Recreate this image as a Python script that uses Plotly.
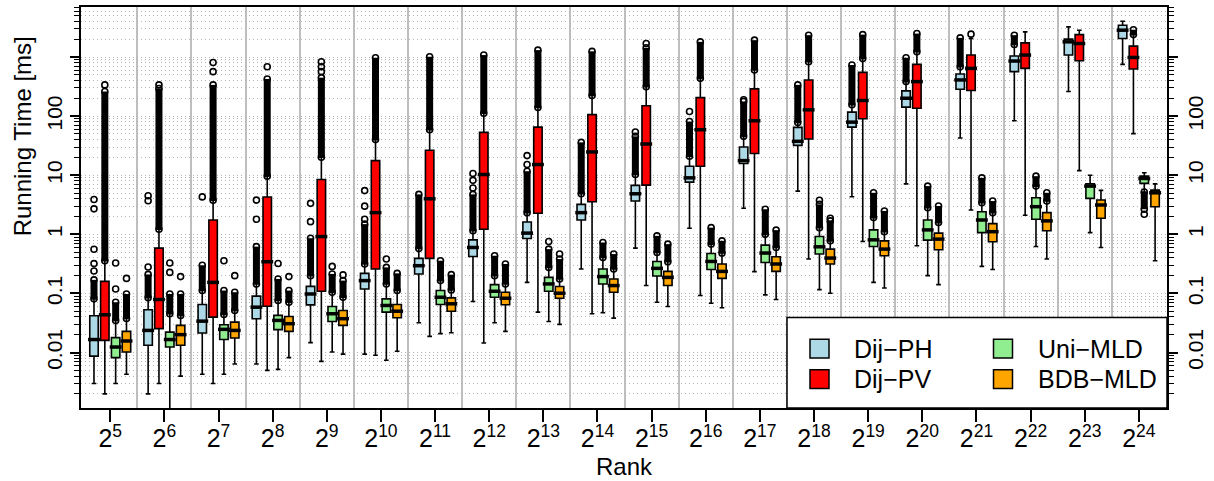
import plotly.graph_objects as go

# ---------------- data (running time in ms) ----------------
ranks = list(range(5, 25))  # 2^5 ... 2^24
series_names = ["Dij−PH", "Dij−PV", "Uni−MLD", "BDB−MLD"]
series_colors = ["#ADD8E6", "#FF0000", "#90EE90", "#FFA500"]

# Dij-PH
ph_q1 = [0.0087, 0.0133, 0.0214, 0.0374, 0.064, 0.119, 0.214, 0.423, 0.85, 1.75, 3.66, 7.65, 15.8, 32.1, 65.3, 142, 285, 566, 1081, 2056]
ph_med = [0.0166, 0.0237, 0.034, 0.0586, 0.098, 0.165, 0.295, 0.60, 1.05, 2.33, 4.86, 9.04, 17.7, 37.5, 79.2, 201, 410, 857, 1810, 2850]
ph_q3 = [0.042, 0.053, 0.065, 0.090, 0.132, 0.219, 0.392, 0.808, 1.62, 3.22, 6.73, 14.2, 30.1, 64.5, 117, 268, 517, 1040, 2010, 3455]
ph_lo = [0.0030, 0.0020, 0.0043, 0.0064, 0.0147, 0.0094, 0.032, 0.073, 0.154, 0.26, 0.586, 1.27, 2.76, 5.4, 4.33, 7.16, 42.6, 83.7, 261, 751]
ph_hi = [0.081, 0.085, 0.112, 0.145, 0.20, 0.315, 0.577, 1.15, 2.33, 4.86, 10.3, 21, 45.5, 78.3, 156, 384, 687, 1630, 3236, 4036]
ph_dense = [0.17, 0.21, 0.30, 0.62, 0.86, 1.49, 4.75, 4.75, 11.7, 36, 45.5, 81, 177, 338, 733, 973, 2113, 2345, None, None]
ph_sparse = [[0.24, 0.32, 0.56, 2.7, 3.9], [0.28, 3.7, 4.5], [4.3], [1.8, 3.8], [1.64, 3.35],
             [1.8, 3.0, 5.5], [], [6.1, 8.2, 10.7], [15.2, 21.5], [], [53.8], [120], [189],
             [], [], [], [], [], [], []]

# Dij-PV
pv_q1 = [0.0161, 0.0254, 0.0397, 0.0609, 0.109, 0.26, 0.392, 1.22, 2.27, 3.57, 6.81, 14.2, 23.3, 41, 90.4, 136, 271, 643, 866, 628]
pv_med = [0.0436, 0.079, 0.154, 0.344, 0.918, 2.33, 4.0, 10.3, 15.2, 24.8, 33.8, 59, 83.7, 128, 184, 384, 643, 1081, 1694, 985]
pv_q3 = [0.160, 0.586, 1.75, 4.28, 8.5, 17.7, 26.5, 53.2, 65.3, 106, 150, 206, 289, 410, 551, 751, 1081, 1741, 2400, 1531]
pv_lo = [0.0020, 0.0030, 0.0030, 0.0050, 0.0071, 0.0090, 0.0188, 0.0145, 0.0483, 0.0454, 0.136, 0.0922, 0.234, 0.382, 0.756, 0.64, 2.58, 2.1, 12, 50.6]
pv_hi = [0.358, 1.22, 3.77, 9.66, 20.2, 40.1, 59, 112, 140, 223, 316, 436, 604, 834, 947, 1228, 2056, 2667, 2850, 2400]
pv_dense = [261, 293, 338, 426, 448, 973, 1012, 1081, 1312, 1250, 1435, 1810, 1932, 2345, 2400, 2497, None, None, None, 2900]
pv_sparse = [[338], [338], [566, 811], [687], [566, 687, 834], [], [], [], [], [], [1694], [], [],
             [], [], [], [2440], [], [], []]

# Uni-MLD
uni_q1 = [0.0082, 0.0124, 0.0166, 0.0244, 0.0336, 0.0483, 0.065, 0.0863, 0.109, 0.145, 0.198, 0.255, 0.335, 0.464, 0.623, 0.80, 1.07, 1.80, 4.07, 7.28]
uni_med = [0.0124, 0.0166, 0.0247, 0.035, 0.0454, 0.0626, 0.0863, 0.109, 0.145, 0.193, 0.266, 0.348, 0.483, 0.616, 0.808, 1.19, 1.75, 2.94, 6.55, 8.83]
uni_q3 = [0.0179, 0.0222, 0.0296, 0.0425, 0.0602, 0.0811, 0.112, 0.141, 0.187, 0.26, 0.348, 0.475, 0.658, 0.918, 1.19, 1.75, 2.42, 4.16, 7.16, 9.66]
uni_lo = [0.0030, 0.0009, 0.0043, 0.0052, 0.0102, 0.0074, 0.0209, 0.032, 0.0336, 0.0471, 0.071, 0.0684, 0.0947, 0.116, 0.154, 0.20, 0.287, 0.623, 1.07, 5.2]
uni_hi = [0.035, 0.0454, 0.044, 0.076, 0.105, 0.145, 0.165, 0.20, 0.276, 0.407, 0.494, 0.684, 1.0, 1.30, 1.92, 2.83, 3.43, 6.55, 10.0, 11.0]
uni_dense = [0.071, 0.098, 0.112, 0.176, 0.214, 0.276, 0.358, 0.435, 0.563, 0.728, 0.943, 1.30, 2.66, 3.22, 5.05, 6.55, 9.04, 9.66, None, 2.66]
uni_sparse = [[0.119, 0.327], [0.227, 0.327], [0.358], [0.322], [0.287], [0.382], [], [], [0.756], [],
              [], [], [], [3.77], [], [], [], [], [], [2.19]]

# BDB-MLD
bdb_q1 = [0.0102, 0.0133, 0.0176, 0.0228, 0.0288, 0.0388, 0.0501, 0.0643, 0.083, 0.105, 0.136, 0.18, 0.236, 0.315, 0.435, 0.548, 0.748, 1.15, 1.87, 2.94]
bdb_med = [0.0157, 0.0201, 0.0237, 0.0308, 0.0374, 0.0501, 0.0668, 0.083, 0.101, 0.136, 0.187, 0.236, 0.315, 0.397, 0.563, 0.83, 1.11, 1.69, 3.14, 5.05]
bdb_q3 = [0.0228, 0.0288, 0.0327, 0.0408, 0.0515, 0.065, 0.0843, 0.105, 0.131, 0.176, 0.236, 0.315, 0.418, 0.563, 0.777, 1.05, 1.52, 2.33, 3.81, 5.61]
bdb_lo = [0.0043, 0.0040, 0.0064, 0.0082, 0.0094, 0.0105, 0.0217, 0.0228, 0.030, 0.0382, 0.0602, 0.0572, 0.0789, 0.101, 0.124, 0.141, 0.255, 0.382, 0.60, 0.358]
bdb_hi = [0.0378, 0.0425, 0.0515, 0.071, 0.0863, 0.112, 0.115, 0.145, 0.176, 0.26, 0.344, 0.483, 0.60, 0.777, 1.11, 1.58, 2.33, 3.66, 5.55, 7.16]
bdb_dense = [0.098, 0.098, 0.105, 0.112, 0.165, 0.219, 0.208, 0.315, 0.382, 0.464, 0.684, 0.777, 1.18, 1.69, 2.49, 3.02, 3.66, 5.05, None, None]
bdb_sparse = [[0.18], [0.193], [0.20], [0.193], [0.206], [], [], [], [0.464], [],
              [], [], [], [1.87], [], [], [], [], [], []]

series = [
    (ph_q1, ph_med, ph_q3, ph_lo, ph_hi, ph_dense, ph_sparse),
    (pv_q1, pv_med, pv_q3, pv_lo, pv_hi, pv_dense, pv_sparse),
    (uni_q1, uni_med, uni_q3, uni_lo, uni_hi, uni_dense, uni_sparse),
    (bdb_q1, bdb_med, bdb_q3, bdb_lo, bdb_hi, bdb_dense, bdb_sparse),
]

# ---------------- geometry ----------------
W, H = 1214, 481
PL, PR, PT, PB = 81, 1167, 5, 408   # plot area in px
FONT = "Liberation Sans, Arial, Helvetica, sans-serif"
GRID = "#b4b4b4"
n_groups = len(ranks)
slot = 5  # 4 boxes + 1 gap per group


def pos(g, s):
    return slot * g + s + 1


fig = go.Figure()

# boxes
for s, (q1, med, q3, lo, hi, dense, sparse) in enumerate(series):
    xs = [pos(g, s) for g in range(n_groups)]
    fig.add_trace(go.Box(
        x=xs, q1=q1, median=med, q3=q3, lowerfence=lo, upperfence=hi,
        orientation="v", width=0.78, whiskerwidth=0.55,
        fillcolor=series_colors[s], line=dict(color="black", width=1.6),
        boxpoints=False, name=series_names[s], showlegend=False, hoverinfo="skip",
    ))

# thick median bars
for s, (q1, med, q3, lo, hi, dense, sparse) in enumerate(series):
    xs = [pos(g, s) for g in range(n_groups)]
    fig.add_trace(go.Scatter(
        x=xs, y=med, mode="markers", showlegend=False, hoverinfo="skip",
        marker=dict(symbol="line-ew", size=8.5, color="black",
                    line=dict(color="black", width=3.5)),
    ))

# dense outlier stacks and sparse outliers
for s, (q1, med, q3, lo, hi, dense, sparse) in enumerate(series):
    dx, dy = [], []
    for g in range(n_groups):
        if dense[g] is None:
            continue
        start = hi[g] if dense[g] > q3[g] else lo[g]
        dx += [pos(g, s), pos(g, s), None]
        dy += [start, dense[g], None]
    fig.add_trace(go.Scatter(
        x=dx, y=dy, mode="lines+markers", showlegend=False, hoverinfo="skip",
        line=dict(color="black", width=7),
        marker=dict(symbol="circle-open", size=6, color="black", line=dict(width=1.6)),
    ))
    sx, sy = [], []
    for g in range(n_groups):
        for v in sparse[g]:
            sx.append(pos(g, s))
            sy.append(v)
    fig.add_trace(go.Scatter(
        x=sx, y=sy, mode="markers", showlegend=False, hoverinfo="skip",
        marker=dict(symbol="circle-open", size=6, color="black", line=dict(width=1.6)),
    ))

# dummy trace for the right-hand axis
fig.add_trace(go.Scatter(x=[None], y=[None], yaxis="y2", showlegend=False, hoverinfo="skip"))

# ---------------- axes ----------------
decades = [0.001, 0.01, 0.1, 1, 10, 100, 1000, 10000]
decade_labels = ["", "0.01", "0.1", "1", "10", "100", "", ""]
minor_vals = [k * 10.0 ** e for e in range(-3, 4) for k in range(2, 10)]
yrange = [-2.938, 3.847]

fig.update_xaxes(
    range=[-0.2, 100.1], tickmode="array",
    tickvals=[slot * g + 2.5 for g in range(n_groups)],
    ticktext=[f"2<sup>{r}</sup>" for r in ranks],
    ticks="outside", ticklen=12, tickwidth=1.5, tickcolor="black", ticklabelstandoff=-5,
    tickfont=dict(size=25, family=FONT, color="black"),
    showgrid=False, zeroline=False, showline=True, linecolor="black", linewidth=2, mirror=True,
    minor=dict(tickmode="array", tickvals=[slot * g + slot for g in range(n_groups - 1)],
               showgrid=True, gridcolor="#bebebe", gridwidth=2, ticks=""),
)

yaxis_common = dict(
    type="log", range=yrange, tickmode="array", tickvals=decades, ticktext=decade_labels,
    ticks="outside", ticklen=9, tickwidth=1.5, tickcolor="black", tickangle=-90,
    tickfont=dict(size=21, family=FONT, color="black"), zeroline=False,
)
fig.update_layout(
    yaxis=dict(**yaxis_common, showgrid=True, gridcolor=GRID, griddash="1px,3px", gridwidth=1,
               showline=True, linecolor="black", linewidth=2, mirror=True,
               minor=dict(tickmode="array", tickvals=minor_vals, ticks="outside", ticklen=5,
                          tickwidth=1, tickcolor="black", showgrid=True, gridcolor=GRID,
                          griddash="1px,3px", gridwidth=1)),
    yaxis2=dict(**yaxis_common, overlaying="y", side="right", showgrid=False,
                showline=True, linecolor="black", linewidth=2,
                minor=dict(tickmode="array", tickvals=minor_vals, ticks="outside", ticklen=5,
                           tickwidth=1, tickcolor="black", showgrid=False)),
)


# ---------------- titles & legend ----------------
def fx(p):
    return (p - PL) / (PR - PL)


def fy(p):
    return (PB - p) / (PB - PT)


annotations = [
    dict(text="Running Time [ms]", x=fx(22), y=fy(135), xref="paper", yref="paper",
         textangle=-90, showarrow=False, xanchor="center", yanchor="middle",
         font=dict(size=24, family=FONT, color="black")),
    dict(text="Rank", x=fx(624), y=fy(467), xref="paper", yref="paper",
         showarrow=False, xanchor="center", yanchor="middle",
         font=dict(size=24, family=FONT, color="black")),
]
shapes = [dict(type="rect", xref="paper", yref="paper", x0=fx(787), x1=fx(1167), y0=fy(408), y1=fy(317),
               fillcolor="white", line=dict(color="black", width=1.5), layer="above")]
leg_cols = [(819.5, 852), (1003, 1036)]
leg_rows = [348.3, 379]
for i, (name, col) in enumerate(zip(series_names, series_colors)):
    cx, tx = leg_cols[i // 2]
    cy = leg_rows[i % 2]
    shapes.append(dict(type="rect", xref="paper", yref="paper",
                       x0=fx(cx - 9.5), x1=fx(cx + 9.5), y0=fy(cy + 9.5), y1=fy(cy - 9.5),
                       fillcolor=col, line=dict(color="black", width=1.5), layer="above"))
    annotations.append(dict(text=name, x=fx(tx), y=fy(cy), xref="paper", yref="paper",
                            showarrow=False, xanchor="left", yanchor="middle",
                            font=dict(size=25, family=FONT, color="black")))

fig.update_layout(
    width=W, height=H, margin=dict(l=PL, r=W - PR, t=PT, b=H - PB, pad=0),
    plot_bgcolor="white", paper_bgcolor="white", boxmode="overlay", showlegend=False,
    font=dict(family=FONT, color="black"), annotations=annotations, shapes=shapes,
)

fig.write_html("out.html", config={"displayModeBar": False},
               post_script="document.body.style.margin='0';document.body.style.overflow='hidden';")
